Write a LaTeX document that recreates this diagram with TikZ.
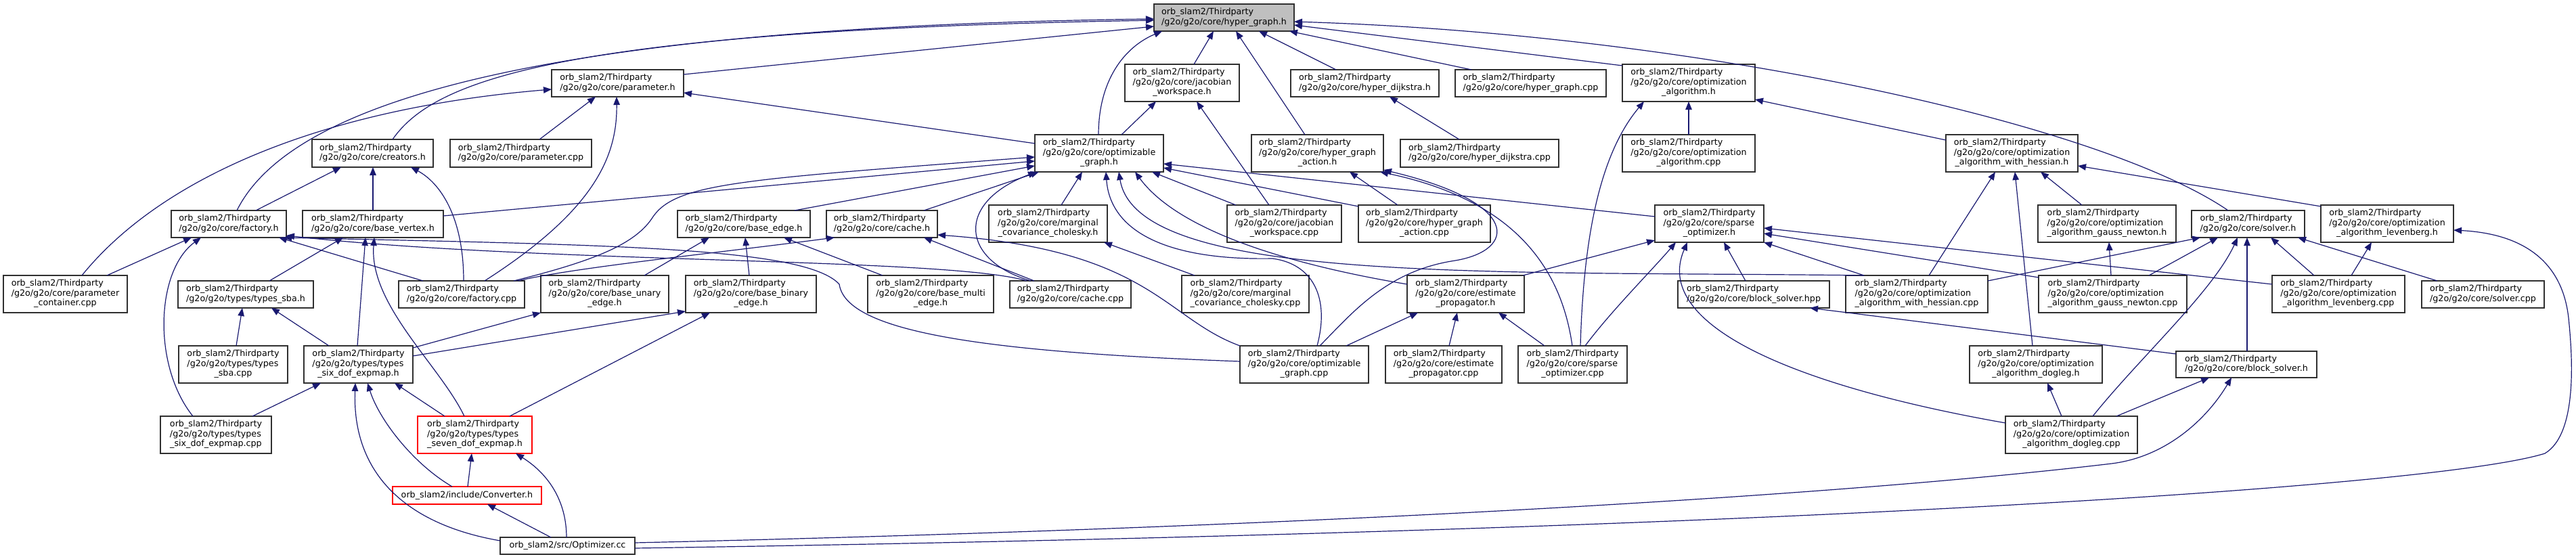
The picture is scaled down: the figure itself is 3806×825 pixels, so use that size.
\documentclass[tikz,border=0pt]{standalone}
\usepackage{fontspec}
\setmainfont{DejaVu Sans}
\usetikzlibrary{arrows.meta}
\definecolor{edgeblue}{HTML}{191970}
\definecolor{rootfill}{HTML}{BFBFBF}
\definecolor{boxline}{HTML}{303030}
\newcommand\OT{orb\_slam2/Thirdparty}
\newcommand\Ltwo[2]{\begin{tabular}{@{}l@{}}#1\\\multicolumn{1}{@{}c@{}}{#2}\end{tabular}}
\newcommand\Lthree[3]{\begin{tabular}{@{}l@{}}#1\\#2\\\multicolumn{1}{@{}c@{}}{#3}\end{tabular}}
\newcommand\bx[7][]{\node[filebox,#1,minimum width={(#4-#3)*1pt},minimum height={(#6-#5)*1pt}] (#2) at ({(#3+#4)/2},{(#5+#6)/2}) {#7};}
\begin{document}
\begin{tikzpicture}[x=1pt,y=-1pt,
  filebox/.style={draw=boxline, line width=1.4pt, fill=white, inner sep=0pt, outer sep=0pt, font=\fontsize{12.7}{14.5}\selectfont},
  rootbox/.style={fill=rootfill},
  redbox/.style={draw=red},
  edge/.style={draw=edgeblue, line width=1.2pt, -{Triangle[length=12pt,width=9.5pt]}}]
\useasboundingbox (0,0) rectangle (3806,825);
% row 0
\bx[rootbox]{hg}{1705}{1912}{6}{46}{\Ltwo{\OT}{/g2o/g2o/core/hyper\_graph.h}}
% row 1
\bx{ph}{815}{1010}{103}{143}{\Ltwo{\OT}{/g2o/g2o/core/parameter.h}}
\bx{jwh}{1662}{1831}{95}{150}{\Lthree{\OT}{/g2o/g2o/core/jacobian}{\_workspace.h}}
\bx{hdh}{1907}{2126}{103}{143}{\Ltwo{\OT}{/g2o/g2o/core/hyper\_dijkstra.h}}
\bx{hgc}{2150}{2373}{103}{143}{\Ltwo{\OT}{/g2o/g2o/core/hyper\_graph.cpp}}
\bx{oah}{2397}{2593}{95}{150}{\Lthree{\OT}{/g2o/g2o/core/optimization}{\_algorithm.h}}
% row 2
\bx{crh}{461}{640}{206}{247}{\Ltwo{\OT}{/g2o/g2o/core/creators.h}}
\bx{pc}{665}{874}{206}{247}{\Ltwo{\OT}{/g2o/g2o/core/parameter.cpp}}
\bx{ogh}{1529}{1719}{199}{254}{\Lthree{\OT}{/g2o/g2o/core/optimizable}{\_graph.h}}
\bx{hgah}{1849}{2044}{199}{254}{\Lthree{\OT}{/g2o/g2o/core/hyper\_graph}{\_action.h}}
\bx{hdc}{2069}{2303}{206}{247}{\Ltwo{\OT}{/g2o/g2o/core/hyper\_dijkstra.cpp}}
\bx{oac}{2397}{2593}{199}{254}{\Lthree{\OT}{/g2o/g2o/core/optimization}{\_algorithm.cpp}}
\bx{owhh}{2875}{3070}{199}{254}{\Lthree{\OT}{/g2o/g2o/core/optimization}{\_algorithm\_with\_hessian.h}}
% row 3
\bx{fh}{253}{423}{311}{351}{\Ltwo{\OT}{/g2o/g2o/core/factory.h}}
\bx{bvh}{447}{655}{311}{351}{\Ltwo{\OT}{/g2o/g2o/core/base\_vertex.h}}
\bx{beh}{1001}{1197}{311}{351}{\Ltwo{\OT}{/g2o/g2o/core/base\_edge.h}}
\bx{cah}{1221}{1385}{311}{351}{\Ltwo{\OT}{/g2o/g2o/core/cache.h}}
\bx{mch}{1461}{1636}{303}{358}{\Lthree{\OT}{/g2o/g2o/core/marginal}{\_covariance\_cholesky.h}}
\bx{jwc}{1813}{1982}{303}{358}{\Lthree{\OT}{/g2o/g2o/core/jacobian}{\_workspace.cpp}}
\bx{hgac}{2007}{2202}{303}{358}{\Lthree{\OT}{/g2o/g2o/core/hyper\_graph}{\_action.cpp}}
\bx{soh}{2445}{2606}{303}{358}{\Lthree{\OT}{/g2o/g2o/core/sparse}{\_optimizer.h}}
\bx{ogn}{3011}{3215}{303}{358}{\Lthree{\OT}{/g2o/g2o/core/optimization}{\_algorithm\_gauss\_newton.h}}
\bx{svh}{3238}{3405}{311}{351}{\Ltwo{\OT}{/g2o/g2o/core/solver.h}}
\bx{olh}{3429}{3625}{303}{358}{\Lthree{\OT}{/g2o/g2o/core/optimization}{\_algorithm\_levenberg.h}}
% row 4
\bx{pcc}{5}{188}{407}{462}{\Lthree{\OT}{/g2o/g2o/core/parameter}{\_container.cpp}}
\bx{tsh}{263}{463}{415}{455}{\Ltwo{\OT}{/g2o/g2o/types/types\_sba.h}}
\bx{fc}{589}{775}{415}{455}{\Ltwo{\OT}{/g2o/g2o/core/factory.cpp}}
\bx{bueh}{799}{988}{407}{462}{\Lthree{\OT}{/g2o/g2o/core/base\_unary}{\_edge.h}}
\bx{bbeh}{1013}{1206}{407}{462}{\Lthree{\OT}{/g2o/g2o/core/base\_binary}{\_edge.h}}
\bx{bmeh}{1282}{1468}{407}{462}{\Lthree{\OT}{/g2o/g2o/core/base\_multi}{\_edge.h}}
\bx{cac}{1492}{1671}{415}{455}{\Ltwo{\OT}{/g2o/g2o/core/cache.cpp}}
\bx{mcc}{1746}{1934}{407}{462}{\Lthree{\OT}{/g2o/g2o/core/marginal}{\_covariance\_cholesky.cpp}}
\bx{eph}{2079}{2252}{407}{462}{\Lthree{\OT}{/g2o/g2o/core/estimate}{\_propagator.h}}
\bx{bshpp}{2479}{2703}{415}{455}{\Ltwo{\OT}{/g2o/g2o/core/block\_solver.hpp}}
\bx{owhc}{2727}{2937}{407}{462}{\Lthree{\OT}{/g2o/g2o/core/optimization}{\_algorithm\_with\_hessian.cpp}}
\bx{ognc}{3012}{3231}{407}{462}{\Lthree{\OT}{/g2o/g2o/core/optimization}{\_algorithm\_gauss\_newton.cpp}}
\bx{olc}{3357}{3553}{407}{462}{\Lthree{\OT}{/g2o/g2o/core/optimization}{\_algorithm\_levenberg.cpp}}
\bx{svc}{3578}{3759}{415}{455}{\Ltwo{\OT}{/g2o/g2o/core/solver.cpp}}
% row 5
\bx{tsc}{264}{425}{511}{566}{\Lthree{\OT}{/g2o/g2o/types/types}{\_sba.cpp}}
\bx{t6h}{449}{610}{511}{566}{\Lthree{\OT}{/g2o/g2o/types/types}{\_six\_dof\_expmap.h}}
\bx{ogc}{1832}{2022}{511}{566}{\Lthree{\OT}{/g2o/g2o/core/optimizable}{\_graph.cpp}}
\bx{epc}{2047}{2219}{511}{566}{\Lthree{\OT}{/g2o/g2o/core/estimate}{\_propagator.cpp}}
\bx{soc}{2243}{2404}{511}{566}{\Lthree{\OT}{/g2o/g2o/core/sparse}{\_optimizer.cpp}}
\bx{odh}{2910}{3106}{511}{566}{\Lthree{\OT}{/g2o/g2o/core/optimization}{\_algorithm\_dogleg.h}}
\bx{bsh}{3215}{3423}{519}{558}{\Ltwo{\OT}{/g2o/g2o/core/block\_solver.h}}
% row 6
\bx{t6c}{237}{401}{615}{670}{\Lthree{\OT}{/g2o/g2o/types/types}{\_six\_dof\_expmap.cpp}}
\bx[redbox]{t7h}{617}{786}{615}{670}{\Lthree{\OT}{/g2o/g2o/types/types}{\_seven\_dof\_expmap.h}}
\bx{odc}{2963}{3158}{615}{670}{\Lthree{\OT}{/g2o/g2o/core/optimization}{\_algorithm\_dogleg.cpp}}
% rows 7-8
\bx[redbox]{conv}{580}{800}{719}{745}{orb\_slam2/include/Converter.h}
\bx{opt}{739}{938}{794}{819}{orb\_slam2/src/Optimizer.cc}
% ---- edges into hyper_graph.h
\draw[edge] ([shift={(195,7)}]ph.north west) -- ([shift={(0,33)}]hg.north west);
\draw[edge] ([shift={(119,0)}]crh.north west) .. controls (640,120) and (820,45) .. ([shift={(0,24)}]hg.north west);
\draw[edge] ([shift={(97,0)}]fh.north west) .. controls (430,150) and (800,40) .. ([shift={(0,22)}]hg.north west);
\draw[edge] ([shift={(94,0)}]ogh.north west) .. controls (1623,120) and (1660,70) .. ([shift={(12,40)}]hg.north west);
\draw[edge] ([shift={(102,0)}]jwh.north west) -- ([shift={(88,40)}]hg.north west);
\draw[edge] ([shift={(79,0)}]hgah.north west) -- ([shift={(121,40)}]hg.north west);
\draw[edge] ([shift={(67,0)}]hdh.north west) -- ([shift={(155,40)}]hg.north west);
\draw[edge] ([shift={(24,0)}]hgc.north west) -- ([shift={(200,40)}]hg.north west);
\draw[edge] ([shift={(0,2)}]oah.north west) -- ([shift={(207,31)}]hg.north west);
\draw[edge] ([shift={(54,0)}]svh.north west) .. controls (3100,180) and (2500,50) .. ([shift={(207,26)}]hg.north west);
% ---- parameter.h
\draw[edge] ([shift={(132,0)}]pc.north west) -- ([shift={(65,40)}]ph.north west);
\draw[edge] ([shift={(116,0)}]pcc.north west) .. controls (240,260) and (480,160) .. ([shift={(0,29)}]ph.north west);
\draw[edge] ([shift={(127,0)}]fc.north west) .. controls (880,310) and (912,230) .. ([shift={(96,40)}]ph.north west);
\draw[edge] ([shift={(0,13)}]ogh.north west) -- ([shift={(195,34)}]ph.north west);
% ---- creators.h
\draw[edge] ([shift={(125,0)}]fh.north west) -- ([shift={(43,41)}]crh.north west);
\draw[edge] ([shift={(104,0)}]bvh.north west) -- ([shift={(90,41)}]crh.north west);
\draw[edge] ([shift={(96,0)}]fc.north west) .. controls (685,320) and (650,270) .. ([shift={(146,41)}]crh.north west);
% ---- factory.h
\draw[edge] ([shift={(153,0)}]pcc.north west) -- ([shift={(30,40)}]fh.north west);
\draw[edge] ([shift={(48,0)}]t6c.north west) .. controls (225,540) and (230,400) .. ([shift={(44,40)}]fh.north west);
\draw[edge] ([shift={(36,0)}]fc.north west) -- ([shift={(159,40)}]fh.north west);
\draw[edge] ([shift={(0,23)}]ogc.north west) .. controls (1450,520) and (1250,490) .. (1240,420) .. controls (1190,365) and (900,362) .. ([shift={(166,40)}]fh.north west);
\draw[edge] ([shift={(25,0)}]cac.north west) .. controls (1400,380) and (800,390) .. ([shift={(170,37)}]fh.north west);
% ---- optimizable_graph.h
\draw[edge] ([shift={(208,8)}]bvh.north west) -- ([shift={(0,39)}]ogh.north west);
\draw[edge] ([shift={(173,0)}]beh.north west) -- ([shift={(0,46)}]ogh.north west);
\draw[edge] ([shift={(144,0)}]cah.north west) -- ([shift={(6,55)}]ogh.north west);
\draw[edge] ([shift={(170,0)}]fc.north west) .. controls (880,385) and (940,360) .. (965,320) .. controls (1000,270) and (1100,265) .. ([shift={(0,33)}]ogh.north west);
\draw[edge] ([shift={(31,0)}]cac.north west) .. controls (1420,385) and (1410,300) .. ([shift={(2,55)}]ogh.north west);
\draw[edge] ([shift={(107,0)}]mch.north west) -- ([shift={(70,55)}]ogh.north west);
\draw[edge] ([shift={(114,0)}]ogc.north west) .. controls (1965,440) and (1940,390) .. (1880,382) .. controls (1720,385) and (1640,340) .. ([shift={(105,55)}]ogh.north west);
\draw[edge] ([shift={(27,0)}]owhc.north west) .. controls (2200,400) and (1680,420) .. ([shift={(124,55)}]ogh.north west);
\draw[edge] ([shift={(0,13)}]eph.north west) .. controls (1900,390) and (1740,340) .. ([shift={(148,55)}]ogh.north west);
\draw[edge] ([shift={(13,0)}]jwc.north west) -- ([shift={(173,55)}]ogh.north west);
\draw[edge] ([shift={(0,2)}]hgac.north west) -- ([shift={(190,49)}]ogh.north west);
\draw[edge] ([shift={(0,17)}]soh.north west) -- ([shift={(190,43)}]ogh.north west);
% ---- jacobian_workspace.h
\draw[edge] ([shift={(128,0)}]ogh.north west) -- ([shift={(46,55)}]jwh.north west);
\draw[edge] ([shift={(62,0)}]jwc.north west) -- ([shift={(106,55)}]jwh.north west);
% ---- hyper_graph_action.h
\draw[edge] ([shift={(58,0)}]hgac.north west) -- ([shift={(145,55)}]hgah.north west);
\draw[edge] ([shift={(118,0)}]ogc.north west) .. controls (2000,460) and (2050,400) .. (2150,385) .. controls (2240,370) and (2250,300) .. ([shift={(195,52)}]hgah.north west);
\draw[edge] ([shift={(80,0)}]soc.north west) .. controls (2310,420) and (2260,300) .. ([shift={(190,55)}]hgah.north west);
% ---- hyper_dijkstra.h
\draw[edge] ([shift={(87,0)}]hdc.north west) -- ([shift={(146,40)}]hdh.north west);
% ---- optimization_algorithm.h
\draw[edge] ([shift={(98,0)}]oac.north west) -- ([shift={(98,55)}]oah.north west);
\draw[edge] ([shift={(0,8)}]owhh.north west) -- ([shift={(196,52)}]oah.north west);
\draw[edge] ([shift={(92,0)}]soc.north west) .. controls (2340,330) and (2370,220) .. ([shift={(32,55)}]oah.north west);
% ---- cache.h
\draw[edge] ([shift={(176,0)}]fc.north west) .. controls (850,395) and (1050,375) .. ([shift={(12,40)}]cah.north west);
\draw[edge] ([shift={(36,0)}]cac.north west) -- ([shift={(144,40)}]cah.north west);
\draw[edge] ([shift={(0,0)}]ogc.north west) .. controls (1720,470) and (1700,370) .. ([shift={(164,36)}]cah.north west);
% ---- base_edge.h
\draw[edge] ([shift={(153,0)}]bueh.north west) -- ([shift={(47,40)}]beh.north west);
\draw[edge] ([shift={(94,0)}]bbeh.north west) -- ([shift={(100,40)}]beh.north west);
\draw[edge] ([shift={(22,0)}]bmeh.north west) -- ([shift={(157,40)}]beh.north west);
% ---- marginal_covariance_cholesky.h
\draw[edge] ([shift={(19,0)}]mcc.north west) -- ([shift={(170,55)}]mch.north west);
% ---- types_sba.h, base_vertex.h
\draw[edge] ([shift={(85,0)}]tsc.north west) -- ([shift={(95,40)}]tsh.north west);
\draw[edge] ([shift={(37,0)}]t6h.north west) -- ([shift={(138,40)}]tsh.north west);
\draw[edge] ([shift={(135,0)}]tsh.north west) -- ([shift={(60,40)}]bvh.north west);
\draw[edge] ([shift={(79,0)}]t6h.north west) -- ([shift={(93,40)}]bvh.north west);
\draw[edge] ([shift={(69,0)}]t7h.north west) .. controls (650,540) and (545,450) .. ([shift={(106,40)}]bvh.north west);
% ---- base_unary_edge.h, base_binary_edge.h
\draw[edge] ([shift={(161,3)}]t6h.north west) -- ([shift={(0,55)}]bueh.north west);
\draw[edge] ([shift={(161,15)}]t6h.north west) -- ([shift={(0,53)}]bbeh.north west);
\draw[edge] ([shift={(136,0)}]t7h.north west) -- ([shift={(36,55)}]bbeh.north west);
% ---- types_six_dof_expmap.h
\draw[edge] ([shift={(136,0)}]t6c.north west) -- ([shift={(25,55)}]t6h.north west);
\draw[edge] ([shift={(40,0)}]t7h.north west) -- ([shift={(134,55)}]t6h.north west);
\draw[edge] ([shift={(88,0)}]conv.north west) .. controls (610,685) and (560,620) .. ([shift={(94,55)}]t6h.north west);
\draw[edge] ([shift={(0,5)}]opt.north west) .. controls (600,775) and (520,700) .. ([shift={(76,55)}]t6h.north west);
% ---- types_seven_dof_expmap.h, Converter.h
\draw[edge] ([shift={(111,0)}]conv.north west) -- ([shift={(80,55)}]t7h.north west);
\draw[edge] ([shift={(98,0)}]opt.north west) .. controls (837,740) and (810,700) .. ([shift={(145,55)}]t7h.north west);
\draw[edge] ([shift={(75,0)}]opt.north west) -- ([shift={(140,26)}]conv.north west);
% ---- Optimizer.cc to the right
\draw[edge] ([shift={(199,8)}]opt.north west) .. controls (1900,780) and (2700,735) .. (3120,685) .. controls (3200,675) and (3260,620) .. ([shift={(82,39)}]bsh.north west);
\draw[edge] ([shift={(199,16)}]opt.north west) .. controls (2600,785) and (3600,720) .. (3760,670) .. controls (3810,640) and (3800,520) .. (3795,470) .. controls (3785,380) and (3720,345) .. ([shift={(196,37)}]olh.north west);
% ---- sparse_optimizer.h
\draw[edge] ([shift={(171,0)}]eph.north west) -- ([shift={(0,52)}]soh.north west);
\draw[edge] ([shift={(99,0)}]soc.north west) .. controls (2380,460) and (2440,400) .. ([shift={(31,55)}]soh.north west);
\draw[edge] ([shift={(0,10)}]odc.north west) .. controls (2650,570) and (2440,480) .. ([shift={(48,55)}]soh.north west);
\draw[edge] ([shift={(100,0)}]bshpp.north west) -- ([shift={(102,55)}]soh.north west);
\draw[edge] ([shift={(27,0)}]owhc.north west) -- ([shift={(161,55)}]soh.north west);
\draw[edge] ([shift={(0,3)}]ognc.north west) -- ([shift={(161,42)}]soh.north west);
\draw[edge] ([shift={(0,13)}]olc.north west) -- ([shift={(161,34)}]soh.north west);
% ---- optimization_algorithm_with_hessian.h
\draw[edge] ([shift={(123,0)}]owhc.north west) -- ([shift={(73,55)}]owhh.north west);
\draw[edge] ([shift={(93,0)}]odh.north west) -- ([shift={(102,55)}]owhh.north west);
\draw[edge] ([shift={(65,0)}]ogn.north west) -- ([shift={(140,55)}]owhh.north west);
\draw[edge] ([shift={(0,2)}]olh.north west) -- ([shift={(195,46)}]owhh.north west);
% ---- solver.h
\draw[edge] ([shift={(210,8)}]owhc.north west) -- ([shift={(13,40)}]svh.north west);
\draw[edge] ([shift={(163,0)}]ognc.north west) -- ([shift={(39,40)}]svh.north west);
\draw[edge] ([shift={(129,0)}]odc.north west) .. controls (3160,530) and (3270,430) .. ([shift={(68,40)}]svh.north west);
\draw[edge] ([shift={(105,0)}]bsh.north west) -- ([shift={(82,40)}]svh.north west);
\draw[edge] ([shift={(62,0)}]olc.north west) -- ([shift={(117,40)}]svh.north west);
\draw[edge] ([shift={(23,0)}]svc.north west) -- ([shift={(157,40)}]svh.north west);
% ---- remaining
\draw[edge] ([shift={(107,0)}]ognc.north west) -- ([shift={(105,55)}]ogn.north west);
\draw[edge] ([shift={(117,0)}]olc.north west) -- ([shift={(75,55)}]olh.north west);
\draw[edge] ([shift={(83,0)}]odc.north west) -- ([shift={(115,55)}]odh.north west);
\draw[edge] ([shift={(164,0)}]odc.north west) -- ([shift={(49,39)}]bsh.north west);
\draw[edge] ([shift={(0,4)}]bsh.north west) -- ([shift={(195,40)}]bshpp.north west);
% ---- estimate_propagator.h
\draw[edge] ([shift={(157,0)}]ogc.north west) -- ([shift={(16,55)}]eph.north west);
\draw[edge] ([shift={(94,0)}]epc.north west) -- ([shift={(74,55)}]eph.north west);
\draw[edge] ([shift={(39,0)}]soc.north west) -- ([shift={(135,55)}]eph.north west);
\end{tikzpicture}
\end{document}
